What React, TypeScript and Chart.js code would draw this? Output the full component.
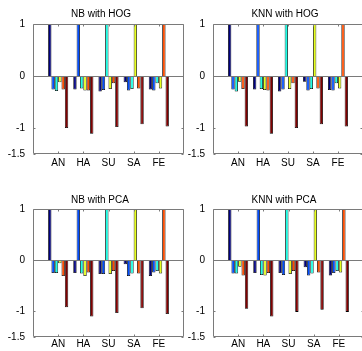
import React, { useEffect, useRef } from "react";
import { Chart, registerables } from "chart.js";

Chart.register(...registerables);

// ---- data ----
const categories = ["AN", "HA", "SU", "SA", "FE"];
const yTicks = [-1.5, -1, 0, 1];
const seriesColors = ["#000080", "#004dff", "#1affe6", "#e6ff1a", "#ff4d00", "#800000"];

// rows = category groups (AN..FE), columns = series 1..6
const nbHog = [
  [1, -0.26, -0.29, -0.12, -0.26, -1.0],
  [-0.26, 1, -0.24, -0.28, -0.28, -1.11],
  [-0.3, -0.27, 1, -0.25, -0.14, -0.98],
  [-0.12, -0.28, -0.25, 1, -0.24, -0.93],
  [-0.26, -0.28, -0.14, -0.24, 1, -0.97],
];
const knnHog = [
  [1, -0.26, -0.3, -0.11, -0.25, -0.97],
  [-0.26, 1, -0.25, -0.27, -0.28, -1.11],
  [-0.3, -0.26, 1, -0.25, -0.14, -1.0],
  [-0.11, -0.28, -0.25, 1, -0.24, -0.93],
  [-0.27, -0.28, -0.14, -0.24, 1, -0.97],
];
const nbPca = [
  [1, -0.25, -0.25, -0.06, -0.31, -0.92],
  [-0.25, 1, -0.26, -0.31, -0.24, -1.1],
  [-0.27, -0.27, 1, -0.27, -0.21, -1.03],
  [-0.08, -0.31, -0.26, 1, -0.26, -0.94],
  [-0.31, -0.24, -0.21, -0.26, 1, -1.05],
];
const knnPca = [
  [1, -0.26, -0.26, -0.13, -0.3, -0.95],
  [-0.25, 1, -0.29, -0.3, -0.25, -1.1],
  [-0.25, -0.29, 1, -0.27, -0.21, -1.01],
  [-0.14, -0.3, -0.26, 1, -0.24, -0.97],
  [-0.3, -0.25, -0.21, -0.24, 1, -1.01],
];

const FONT = "'Liberation Sans', Arial, Helvetica, sans-serif";

const framePlugin = {
  id: "matlabFrame",
  afterDatasetsDraw(chart: any, _args: any, opts: any) {
    const { ctx, chartArea: a, scales } = chart;
    const L = Math.round(a.left) + 0.5;
    const R = Math.round(a.right) - 0.5;
    const T = Math.round(a.top) + 0.5;
    const B = Math.round(a.bottom) - 0.5;
    ctx.save();
    ctx.strokeStyle = "#7a7a7a";
    ctx.lineWidth = 1;
    // zero baseline
    const y0 = Math.round(scales.y.getPixelForValue(0)) + 0.5;
    ctx.beginPath();
    ctx.moveTo(L, y0);
    ctx.lineTo(R, y0);
    ctx.stroke();
    // box
    ctx.beginPath();
    ctx.moveTo(L, T);
    ctx.lineTo(R, T);
    ctx.lineTo(R, B);
    ctx.lineTo(L, B);
    ctx.closePath();
    ctx.stroke();
    // inward tick marks
    const tl = 2;
    ctx.beginPath();
    categories.forEach((_c, i) => {
      const x = Math.round(scales.x.getPixelForValue(i + 1)) + 0.5;
      ctx.moveTo(x, T);
      ctx.lineTo(x, T + tl);
      ctx.moveTo(x, B);
      ctx.lineTo(x, B - tl);
    });
    yTicks.forEach((v) => {
      const y = Math.round(scales.y.getPixelForValue(v)) + 0.5;
      ctx.moveTo(L, y);
      ctx.lineTo(L + tl, y);
      ctx.moveTo(R, y);
      ctx.lineTo(R - tl, y);
    });
    ctx.stroke();
    // title
    ctx.fillStyle = "#000";
    ctx.font = `10px ${FONT}`;
    ctx.textAlign = "center";
    ctx.textBaseline = "middle";
    ctx.fillText(opts.text, opts.x, opts.y);
    ctx.restore();
  },
};

type PanelProps = {
  title: string;
  rows: number[][];
  left: number;
  top: number;
  width: number;
  height: number;
  yAxisWidth: number;
  padTop: number;
  padRight: number;
  xAxisHeight: number;
  xPad: number;
  titleX: number;
  titleY: number;
};

function Panel(p: PanelProps) {
  const ref = useRef<HTMLCanvasElement | null>(null);
  useEffect(() => {
    if (!ref.current) return;
    const labels = ["", ...categories, ""];
    const datasets = seriesColors.map((color, k) => ({
      data: [null, ...p.rows.map((r) => r[k]), null],
      backgroundColor: color,
      borderColor: "#000000",
      borderWidth: 0.8,
      categoryPercentage: 0.8,
      barPercentage: 1.0,
    }));
    const chart = new Chart(ref.current, {
      type: "bar",
      data: { labels, datasets } as any,
      plugins: [framePlugin as any],
      options: {
        animation: false,
        responsive: false,
        maintainAspectRatio: false,
        events: [],
        layout: { padding: { top: p.padTop, right: p.padRight, left: 0, bottom: 0 } },
        plugins: {
          legend: { display: false },
          tooltip: { enabled: false },
          title: { display: false },
          matlabFrame: { text: p.title, x: p.titleX, y: p.titleY },
        } as any,
        scales: {
          x: {
            type: "category",
            offset: false,
            grid: { display: false, drawTicks: false },
            border: { display: false },
            ticks: {
              autoSkip: false,
              maxRotation: 0,
              minRotation: 0,
              padding: p.xPad,
              color: "#000",
              font: { family: FONT, size: 10 },
            },
            afterFit: (s: any) => {
              s.height = p.xAxisHeight;
            },
          },
          y: {
            type: "linear",
            min: -1.5,
            max: 1,
            grid: { display: false, drawTicks: false },
            border: { display: false },
            ticks: {
              padding: 8,
              color: "#000",
              font: { family: FONT, size: 10 },
              callback: (v: any) => String(v),
            },
            afterBuildTicks: (s: any) => {
              s.ticks = yTicks.map((v) => ({ value: v }));
            },
            afterFit: (s: any) => {
              s.width = p.yAxisWidth;
            },
          },
        },
      } as any,
    });
    return () => chart.destroy();
  }, []);
  return (
    <canvas
      ref={ref}
      width={p.width}
      height={p.height}
      style={{ position: "absolute", left: p.left, top: p.top, width: p.width, height: p.height }}
    />
  );
}

export default function App() {
  return (
    <div
      style={{
        position: "fixed",
        left: 0,
        top: 0,
        width: 362,
        height: 351,
        overflow: "hidden",
        background: "#ffffff",
      }}
    >
      <Panel title="NB with HOG" rows={nbHog} left={0} top={0} width={190} height={175}
        yAxisWidth={33} padTop={24} padRight={6} xAxisHeight={21} xPad={3} titleX={101} titleY={14} />
      <Panel title="KNN with HOG" rows={knnHog} left={181} top={0} width={185} height={175}
        yAxisWidth={32} padTop={24} padRight={2} xAxisHeight={21} xPad={3} titleX={104} titleY={14} />
      <Panel title="NB with PCA" rows={nbPca} left={0} top={175} width={190} height={176}
        yAxisWidth={33} padTop={34} padRight={6} xAxisHeight={12} xPad={1} titleX={100} titleY={25} />
      <Panel title="KNN with PCA" rows={knnPca} left={181} top={175} width={185} height={176}
        yAxisWidth={32} padTop={34} padRight={2} xAxisHeight={12} xPad={1} titleX={103} titleY={25} />
    </div>
  );
}
